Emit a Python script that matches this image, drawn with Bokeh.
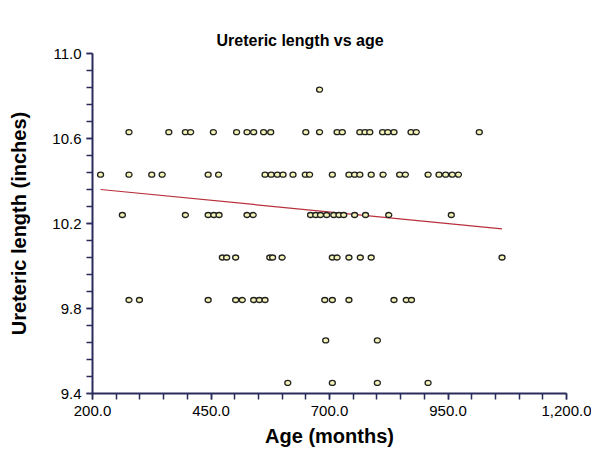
from bokeh.plotting import figure
from bokeh.models import FixedTicker, NumeralTickFormatter, Range1d, ColumnDataSource, Title
from bokeh.embed import file_html
from bokeh.resources import INLINE

# Data: age (months) and ureteric length (inches)
age = [
    679,
    277, 361, 396, 407, 455, 504, 526, 540, 561, 576, 650, 679, 716, 727, 764, 775, 785, 812, 823, 836, 872, 883, 1016,
    217, 277, 325, 347, 444, 466, 564, 577, 590, 602, 623, 649, 658, 706, 741, 753, 764, 788, 813, 848, 860, 908, 931, 945, 959, 972,
    263, 396, 444, 456, 467, 526, 539, 660, 671, 681, 694, 709, 720, 730, 753, 776, 825, 957,
    474, 483, 502, 574, 580, 600, 706, 716, 741, 765, 788, 1064,
    277, 299, 444, 502, 516, 540, 552, 564, 690, 706, 741, 836, 862, 873,
    692, 801,
    612, 706, 801, 908,
]
length = (
    [10.83]
    + [10.63] * 23
    + [10.43] * 26
    + [10.24] * 18
    + [10.04] * 12
    + [9.84] * 14
    + [9.65] * 2
    + [9.45] * 4
)
fit_age = [217, 1064]
fit_length = [10.36, 10.175]

x_ticks = [200, 450, 700, 950, 1200]
y_ticks = [9.4, 9.8, 10.2, 10.6, 11.0]
title_text = "Ureteric length vs age"

axis_color = "#2b2b5c"
font = "Liberation Sans"

p = figure(
    width=591, height=445,
    frame_width=474, frame_height=340,
    output_backend="svg", toolbar_location=None,
    x_range=Range1d(200, 1200), y_range=Range1d(9.4, 11.0),
    min_border_left=92, min_border_right=25, min_border_top=53, min_border_bottom=52,
)
p.outline_line_color = None
p.xgrid.visible = False
p.ygrid.visible = False
p.background_fill_color = "white"
p.border_fill_color = "white"

p.add_layout(Title(text=title_text, align="left", offset=124,
                   text_font=font, text_font_size="16px", text_font_style="bold",
                   text_color="black"), "above")

p.line(fit_age, fit_length, line_color="#b8303c", line_width=1.2)
src = ColumnDataSource(dict(x=age, y=length))
p.ellipse("x", "y", source=src, width=6, height=5, width_units="screen", height_units="screen",
          fill_color="#f4f4b8", line_color="#222222", line_width=1.3)

p.xaxis.ticker = FixedTicker(ticks=x_ticks, minor_ticks=list(range(200, 1201, 50)))
p.yaxis.ticker = FixedTicker(ticks=y_ticks, minor_ticks=[round(9.4 + 0.08 * i, 2) for i in range(21)])
p.xaxis.formatter = NumeralTickFormatter(format="0,0.0")
p.yaxis.formatter = NumeralTickFormatter(format="0.0")

for ax in (p.xaxis, p.yaxis):
    ax.axis_line_color = axis_color
    ax.axis_line_width = 2
    ax.major_tick_line_color = axis_color
    ax.minor_tick_line_color = axis_color
    ax.major_tick_line_width = 1.5
    ax.minor_tick_line_width = 1.5
    ax.major_tick_out = 6
    ax.major_tick_in = 0
    ax.minor_tick_out = 6
    ax.minor_tick_in = 0
    ax.major_label_text_font = font
    ax.major_label_text_font_size = "15px"
    ax.major_label_text_color = "black"
    ax.axis_label_text_font = font
    ax.axis_label_text_font_style = "bold"
    ax.axis_label_text_color = "black"

p.xaxis.axis_label_text_font_size = "20px"
p.yaxis.axis_label_text_font_size = "20px"
p.xaxis.axis_label = "Age (months)"
p.yaxis.axis_label = "Ureteric length (inches)"
p.xaxis.major_label_standoff = 6
p.yaxis.major_label_standoff = 5
p.xaxis.axis_label_standoff = 6
p.yaxis.axis_label_standoff = 19

open("out.html", "w").write(file_html(p, INLINE))
